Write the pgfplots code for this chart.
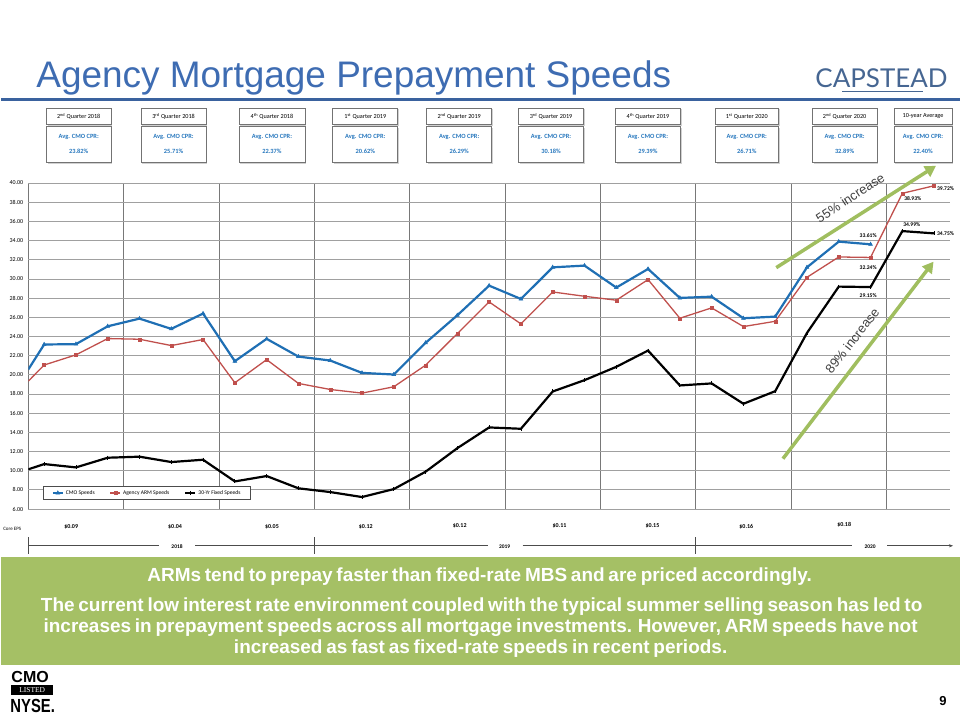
\documentclass[border=0pt]{standalone}
\usepackage{pgfplots}
\pgfplotsset{compat=1.18}
\usetikzlibrary{arrows.meta}
\usepackage{fontspec}
\setmainfont{Liberation Sans}
\newfontfamily\calibri{Carlito}
\newfontfamily\lato{Lato}
\newfontfamily\nyseserif{Liberation Serif}
\newfontfamily\greenfont[WordSpace=0.72]{Liberation Sans}

\definecolor{cmoblue}{RGB}{31,111,180}
\definecolor{armred}{RGB}{192,80,77}
\definecolor{titleblue}{RGB}{62,108,178}
\definecolor{ruleblue}{RGB}{58,98,158}
\definecolor{logoblue}{RGB}{70,102,146}
\definecolor{boxgreen}{RGB}{165,192,101}
\definecolor{arrowgreen}{RGB}{160,190,95}
\definecolor{valblue}{RGB}{40,120,190}
\definecolor{hgrid}{RGB}{160,160,160}
\definecolor{vgrid}{RGB}{120,120,120}

\newcommand{\qbox}[4]{%
  \pgfmathsetmacro{\cx}{(#1+#2)/2}%
  \fill[black!18] (#1+1.3,109.3) rectangle (#2+1.3,126.3);
  \draw[black!55, fill=white, line width=0.7pt] (#1,108) rectangle (#2,125);
  \node[font=\calibri\fontsize{6.2}{7}\selectfont] at (\cx,116.5) {#3};
  \fill[black!18] (#1+1.3,128.3) rectangle (#2+1.3,164.3);
  \draw[black!55, fill=white, line width=0.7pt] (#1,127) rectangle (#2,163);
  \node[font=\calibri\bfseries\fontsize{6.4}{7}\selectfont, text=valblue] at (\cx,137.5) {Avg. CMO CPR:};
  \node[font=\calibri\bfseries\fontsize{6.4}{7}\selectfont, text=valblue] at (\cx,152) {#4};
}

\begin{document}
\begin{tikzpicture}
\begin{scope}[x=1pt,y=-1pt]
\path[use as bounding box] (0,0) rectangle (960,720);
% title
\node[anchor=base west, inner sep=0, text=titleblue, font=\fontsize{37}{40}\selectfont] at (35,88) {Agency Mortgage Prepayment\ Speeds};
\node[anchor=base west, inner sep=0, text=logoblue, font=\lato\fontsize{26}{28}\selectfont] at (815,87.3) {CAPSTEAD};
\draw[logoblue, line width=1.6pt] (842,91.7) -- (923,91.7);
\draw[ruleblue, line width=3pt] (0,99.3) -- (960,99.3);
% quarter boxes
\qbox{45}{110}{2\textsuperscript{nd} Quarter 2018}{23.82\%}
\qbox{140}{205}{3\textsuperscript{rd} Quarter 2018}{25.71\%}
\qbox{238}{304}{4\textsuperscript{th} Quarter 2018}{22.37\%}
\qbox{332}{397}{1\textsuperscript{st} Quarter 2019}{20.62\%}
\qbox{426}{491}{2\textsuperscript{nd} Quarter 2019}{26.29\%}
\qbox{518}{583}{3\textsuperscript{rd} Quarter 2019}{30.18\%}
\qbox{615}{680}{4\textsuperscript{th} Quarter 2019}{29.39\%}
\qbox{715}{778}{1\textsuperscript{st} Quarter 2020}{26.71\%}
\qbox{812}{877}{2\textsuperscript{nd} Quarter 2020}{32.89\%}
\qbox{894}{952}{10-year Average}{22.40\%}
\end{scope}

\begin{axis}[
  at={(27pt,-509.7pt)}, anchor=south west,
  width=923pt, height=326.4pt, scale only axis,
  xmin=0.5, xmax=29.5, ymin=6, ymax=40,
  xtick={0.5,3.5,...,27.5}, xticklabels={},
  ytick={6,8,...,40},
  xmajorgrids, ymajorgrids,
  x grid style={vgrid, line width=0.9pt},
  y grid style={hgrid, line width=0.8pt},
  axis line style={draw=none},
  major tick length=0pt,
  yticklabel style={font=\calibri\fontsize{6}{7}\selectfont, xshift=-1.5pt,
    /pgf/number format/.cd, fixed, fixed zerofill, precision=2, assume math mode=true},
  legend columns=3,
  legend cell align=left,
  legend style={at={(0.129,0.049)}, anchor=center, draw=black!70, line width=0.6pt,
    font=\calibri\fontsize{5.6}{6.5}\selectfont, inner sep=1.8pt, inner xsep=8pt,
    /tikz/every even column/.append style={column sep=13pt}},
  legend image code/.code={\draw[#1, mark repeat=2, mark phase=2] plot coordinates {(0pt,0pt) (5pt,0pt) (10pt,0pt)};},
]
\addplot[cmoblue, line width=2.2pt, mark=triangle*, mark size=2.2pt, mark phase=2,
  mark options={line width=0.5pt}] coordinates {
(0.5,20.55) (1,23.16) (2,23.2) (3,25.06) (4,25.86) (5,24.79) (6,26.39) (7,21.42) (8,23.75) (9,21.9) (10,21.49) (11,20.2) (12,20.03) (13,23.33) (14,26.21) (15,29.3) (16,27.91) (17,31.21) (18,31.39) (19,29.1) (20,31.04) (21,28.02) (22,28.15) (23,25.9) (24,26.07) (25,31.21) (26,33.89) (27,33.61)
};
\addlegendentry{CMO Speeds}
\addplot[armred, line width=1.3pt, mark=square*, mark size=1.5pt, mark phase=2,
  mark options={line width=0.4pt}] coordinates {
(0.5,19.33) (1,21.02) (2,22.08) (3,23.78) (4,23.71) (5,23.05) (6,23.68) (7,19.17) (8,21.58) (9,19.1) (10,18.47) (11,18.09) (12,18.75) (13,21.0) (14,24.3) (15,27.6) (16,25.31) (17,28.64) (18,28.19) (19,27.78) (20,29.93) (21,25.9) (22,26.98) (23,25.03) (24,25.58) (25,30.17) (26,32.29) (27,32.24) (28,38.93) (29,39.72)
};
\addlegendentry{Agency ARM Speeds}
\addplot[black, line width=2.2pt, mark=|, mark size=2pt, mark phase=2,
  mark options={line width=0.8pt}] coordinates {
(0.5,10.14) (1,10.69) (2,10.34) (3,11.35) (4,11.46) (5,10.9) (6,11.14) (7,8.88) (8,9.44) (9,8.16) (10,7.77) (11,7.25) (12,8.08) (13,9.89) (14,12.35) (15,14.51) (16,14.37) (17,18.26) (18,19.44) (19,20.83) (20,22.53) (21,18.89) (22,19.1) (23,16.98) (24,18.29) (25,24.37) (26,29.2) (27,29.15) (28,34.99) (29,34.75)
};
\addlegendentry{30-Yr Fixed Speeds}
\end{axis}

\begin{scope}[x=1pt,y=-1pt]
% data labels
\begin{scope}[every node/.style={font=\calibri\bfseries\fontsize{5.6}{6}\selectfont, inner sep=0.5pt}]
\node at (868,236) {33.61\%};
\node at (868,268.3) {32.24\%};
\node at (868,295.7) {29.15\%};
\node at (912.7,199.3) {38.93\%};
\node at (945.5,189) {39.72\%};
\node at (911.7,225) {34.99\%};
\node at (945.5,234) {34.75\%};
\end{scope}
% arrows
\draw[arrowgreen, line width=3.5pt, -{Triangle[length=11pt,width=12pt]}] (776,268) -- (936,166);
\draw[arrowgreen, line width=3.5pt, -{Triangle[length=11pt,width=12pt]}] (782.7,459.3) -- (933.5,262);
\node[rotate=33, text=black!75, inner sep=0, font=\fontsize{13}{14}\selectfont] at (850,198) {55\% increase};
\node[rotate=52, text=black!75, inner sep=0, font=\fontsize{13}{14}\selectfont] at (852,341) {89\% increase};
% core EPS
\node[font=\calibri\fontsize{5}{6}\selectfont] at (11,530) {Core EPS};
\begin{scope}[every node/.style={font=\calibri\bfseries\fontsize{6}{7}\selectfont}]
\node at (70,528) {\$0.09};
\node at (174,528) {\$0.04};
\node at (271,528) {\$0.05};
\node at (365,528) {\$0.12};
\node at (459,527) {\$0.12};
\node at (559,527) {\$0.11};
\node at (652,527) {\$0.15};
\node at (746,527) {\$0.16};
\node at (844,525) {\$0.18};
\end{scope}
% timeline
\draw[black!70, line width=0.6pt] (27,546.5) -- (158,546.5);
\draw[black!70, line width=0.6pt] (194,546.5) -- (487,546.5);
\draw[black!70, line width=0.6pt] (522,546.5) -- (852,546.5);
\draw[black!70, line width=0.6pt, -{Stealth[length=4pt,width=3pt]}] (887,546.5) -- (953,546.5);
\foreach \t in {27,313,695} \draw[black!70, line width=0.6pt] (\t,538) -- (\t,555);
\begin{scope}[every node/.style={font=\calibri\bfseries\fontsize{5.5}{6}\selectfont}]
\node at (176,547) {2018};
\node at (504,547) {2019};
\node at (870,547) {2020};
\end{scope}
% green box
\fill[boxgreen] (0,557.3) rectangle (960,665.7);
\begin{scope}[every node/.style={text=white, anchor=base, inner sep=0, font=\greenfont\bfseries\fontsize{19}{20}\selectfont}]
\node at (479,582) {ARMs tend to prepay faster than fixed-rate MBS and are priced accordingly.};
\node at (481,612) {The current low interest rate environment coupled with the typical summer selling season has led to};
\node at (480,633) {increases in prepayment speeds across all mortgage investments. However, ARM speeds have not};
\node at (480,654) {increased as fast as fixed-rate speeds in recent periods.};
\end{scope}
% NYSE logo
\node[anchor=base west, inner sep=0, font=\bfseries\fontsize{16}{17}\selectfont] at (10,683) {CMO};
\fill[black] (10,685.5) rectangle (52,696);
\node[text=white, inner sep=0, font=\nyseserif\fontsize{7.5}{8}\selectfont] at (31,691) {LISTED};
\node[anchor=base west, inner sep=0, font=\bfseries\fontsize{19}{20}\selectfont] at (9,713) {\scalebox{0.78}[1]{NYSE.}};
% page number
\node[anchor=base, inner sep=0, font=\bfseries\fontsize{13}{14}\selectfont] at (943,706) {9};
\end{scope}
\end{tikzpicture}
\end{document}
